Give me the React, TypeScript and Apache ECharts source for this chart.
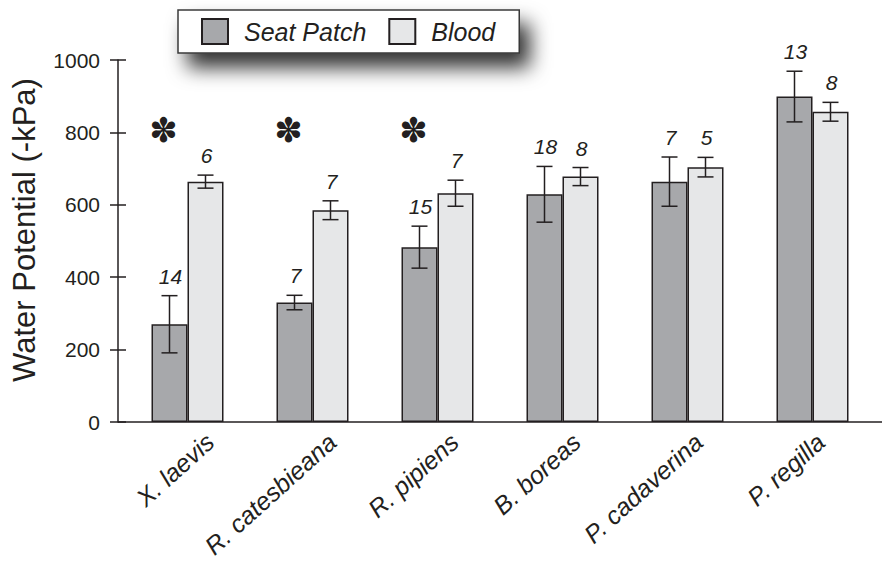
import React, { useEffect, useRef } from "react";
import * as echarts from "echarts";

const categories = ["X. laevis", "R. catesbieana", "R. pipiens", "B. boreas", "P. cadaverina", "P. regilla"];
const seatPatch = [270, 330, 483, 629, 664, 899];
const seatPatchSE = [79, 20, 58, 77, 68, 70];
const seatPatchN = [14, 7, 15, 18, 7, 13];
const blood = [664, 585, 632, 678, 704, 857];
const bloodSE = [18, 26, 36, 25, 27, 26];
const bloodN = [6, 7, 7, 8, 5, 8];
const significant = [true, true, true, false, false, false];
const yTicks = [0, 200, 400, 600, 800, 1000];

const FONT = '"Liberation Sans", Arial, Helvetica, sans-serif';
const INK = "#231f20";
const BAR_W = 36;
const ASTERISK_LEVEL = 808;

export default function App() {
  const ref = useRef<HTMLDivElement>(null);
  useEffect(() => {
    if (!ref.current) return;
    const chart = echarts.init(ref.current, null, { renderer: "svg" });

    const makeErr = (sign: number) => (params: any, api: any) => {
      const cat = api.value(0);
      const mean = api.value(1);
      const se = api.value(2);
      const n = api.value(3);
      const sig = api.value(4);
      const c = api.coord([cat, mean]);
      const x = c[0] + (sign * BAR_W) / 2;
      const top = api.coord([cat, mean + se])[1];
      const bot = api.coord([cat, mean - se])[1];
      const ls = { stroke: INK, lineWidth: 1.5 };
      const children: any[] = [
        { type: "line", shape: { x1: x, y1: top, x2: x, y2: bot }, style: ls },
        { type: "line", shape: { x1: x - 8, y1: top, x2: x + 8, y2: top }, style: ls },
        { type: "line", shape: { x1: x - 8, y1: bot, x2: x + 8, y2: bot }, style: ls },
        {
          type: "text",
          x: x + 1,
          y: top - 9,
          style: {
            text: String(n),
            font: `italic 21px ${FONT}`,
            fill: INK,
            align: "center",
            verticalAlign: "bottom",
          },
        },
      ];
      if (sig) {
        children.push({
          type: "text",
          x: x - 6,
          y: api.coord([cat, ASTERISK_LEVEL])[1],
          style: {
            text: "\u273D",
            font: `bold 34px "DejaVu Sans", sans-serif`,
            fill: INK,
            align: "center",
            verticalAlign: "middle",
          },
        });
      }
      return { type: "group", children };
    };

    const option: any = {
      animation: false,
      backgroundColor: "#ffffff",
      textStyle: { fontFamily: FONT },
      legend: {
        data: ["Seat Patch", "Blood"],
        left: 178,
        top: 10,
        padding: [8, 24, 8, 23],
        itemWidth: 26,
        itemHeight: 25,
        itemGap: 22,
        icon: "rect",
        backgroundColor: "#ffffff",
        borderColor: "#3a3a3a",
        borderWidth: 1.5,
        shadowBlur: 20,
        shadowColor: "rgba(0,0,0,0.8)",
        shadowOffsetX: 10,
        shadowOffsetY: 14,
        textStyle: {
          fontFamily: FONT,
          fontSize: 25,
          fontStyle: "italic",
          color: INK,
          padding: [0, 0, 0, 11],
        },
      },
      grid: [
        { left: 125, width: 750, top: 60, height: 362 },
        { left: 149, width: 750, top: 60, height: 362 },
      ],
      xAxis: [
        {
          type: "category",
          gridIndex: 0,
          data: categories,
          axisLine: { show: false },
          axisTick: { show: false },
          axisLabel: { show: false },
        },
        {
          type: "category",
          gridIndex: 1,
          data: categories,
          axisLine: { show: false },
          axisTick: { show: false },
          axisLabel: {
            interval: 0,
            rotate: 42,
            margin: 16,
            fontFamily: FONT,
            fontSize: 25,
            fontStyle: "italic",
            color: INK,
          },
        },
      ],
      yAxis: [
        {
          type: "value",
          gridIndex: 0,
          min: yTicks[0],
          max: yTicks[yTicks.length - 1],
          interval: 200,
          offset: 7,
          splitLine: { show: false },
          axisLine: { show: true, lineStyle: { color: INK, width: 1.5 } },
          axisTick: { show: true, length: 8, lineStyle: { color: INK, width: 1.5 } },
          axisLabel: {
            margin: 18,
            fontFamily: FONT,
            fontSize: 21,
            color: INK,
            formatter: (v: number) => String(v),
          },
        },
        {
          type: "value",
          gridIndex: 0,
          min: yTicks[0],
          max: yTicks[yTicks.length - 1],
          interval: 200,
          offset: 7,
          position: "left",
          splitLine: { show: false },
          axisLine: { show: false },
          axisTick: { show: true, inside: true, length: 8, lineStyle: { color: INK, width: 1.5 } },
          axisLabel: { show: false },
        },
        { type: "value", gridIndex: 1, show: false, min: 0, max: 1000 },
      ],
      graphic: [
        {
          type: "line",
          shape: { x1: 118, y1: 422, x2: 882, y2: 422 },
          style: { stroke: INK, lineWidth: 1.5 },
          z: 10,
        },
        {
          type: "text",
          x: 24,
          y: 230,
          rotation: Math.PI / 2,
          style: {
            text: "Water Potential (-kPa)",
            font: `31px ${FONT}`,
            fill: INK,
            align: "center",
            verticalAlign: "middle",
          },
        },
      ],
      series: [
        {
          name: "Seat Patch",
          type: "bar",
          xAxisIndex: 0,
          yAxisIndex: 0,
          data: seatPatch,
          barWidth: BAR_W,
          barGap: "0%",
          itemStyle: { color: "#a7a8ab", borderColor: INK, borderWidth: 1.5 },
        },
        {
          name: "Blood",
          type: "bar",
          xAxisIndex: 0,
          yAxisIndex: 0,
          data: blood,
          barWidth: BAR_W,
          barGap: "0%",
          itemStyle: { color: "#e6e7e8", borderColor: INK, borderWidth: 1.5 },
        },
        {
          type: "custom",
          xAxisIndex: 0,
          yAxisIndex: 0,
          z: 5,
          clip: false,
          renderItem: makeErr(-1),
          encode: { x: 0, y: 1 },
          data: categories.map((_, i) => [i, seatPatch[i], seatPatchSE[i], seatPatchN[i], significant[i] ? 1 : 0]),
        },
        {
          type: "custom",
          xAxisIndex: 0,
          yAxisIndex: 0,
          z: 5,
          clip: false,
          renderItem: makeErr(1),
          encode: { x: 0, y: 1 },
          data: categories.map((_, i) => [i, blood[i], bloodSE[i], bloodN[i], 0]),
        },
      ],
    };
    chart.setOption(option);
    return () => chart.dispose();
  }, []);
  return <div ref={ref} style={{ position: "fixed", left: 0, top: 0, width: 882, height: 566 }} />;
}
